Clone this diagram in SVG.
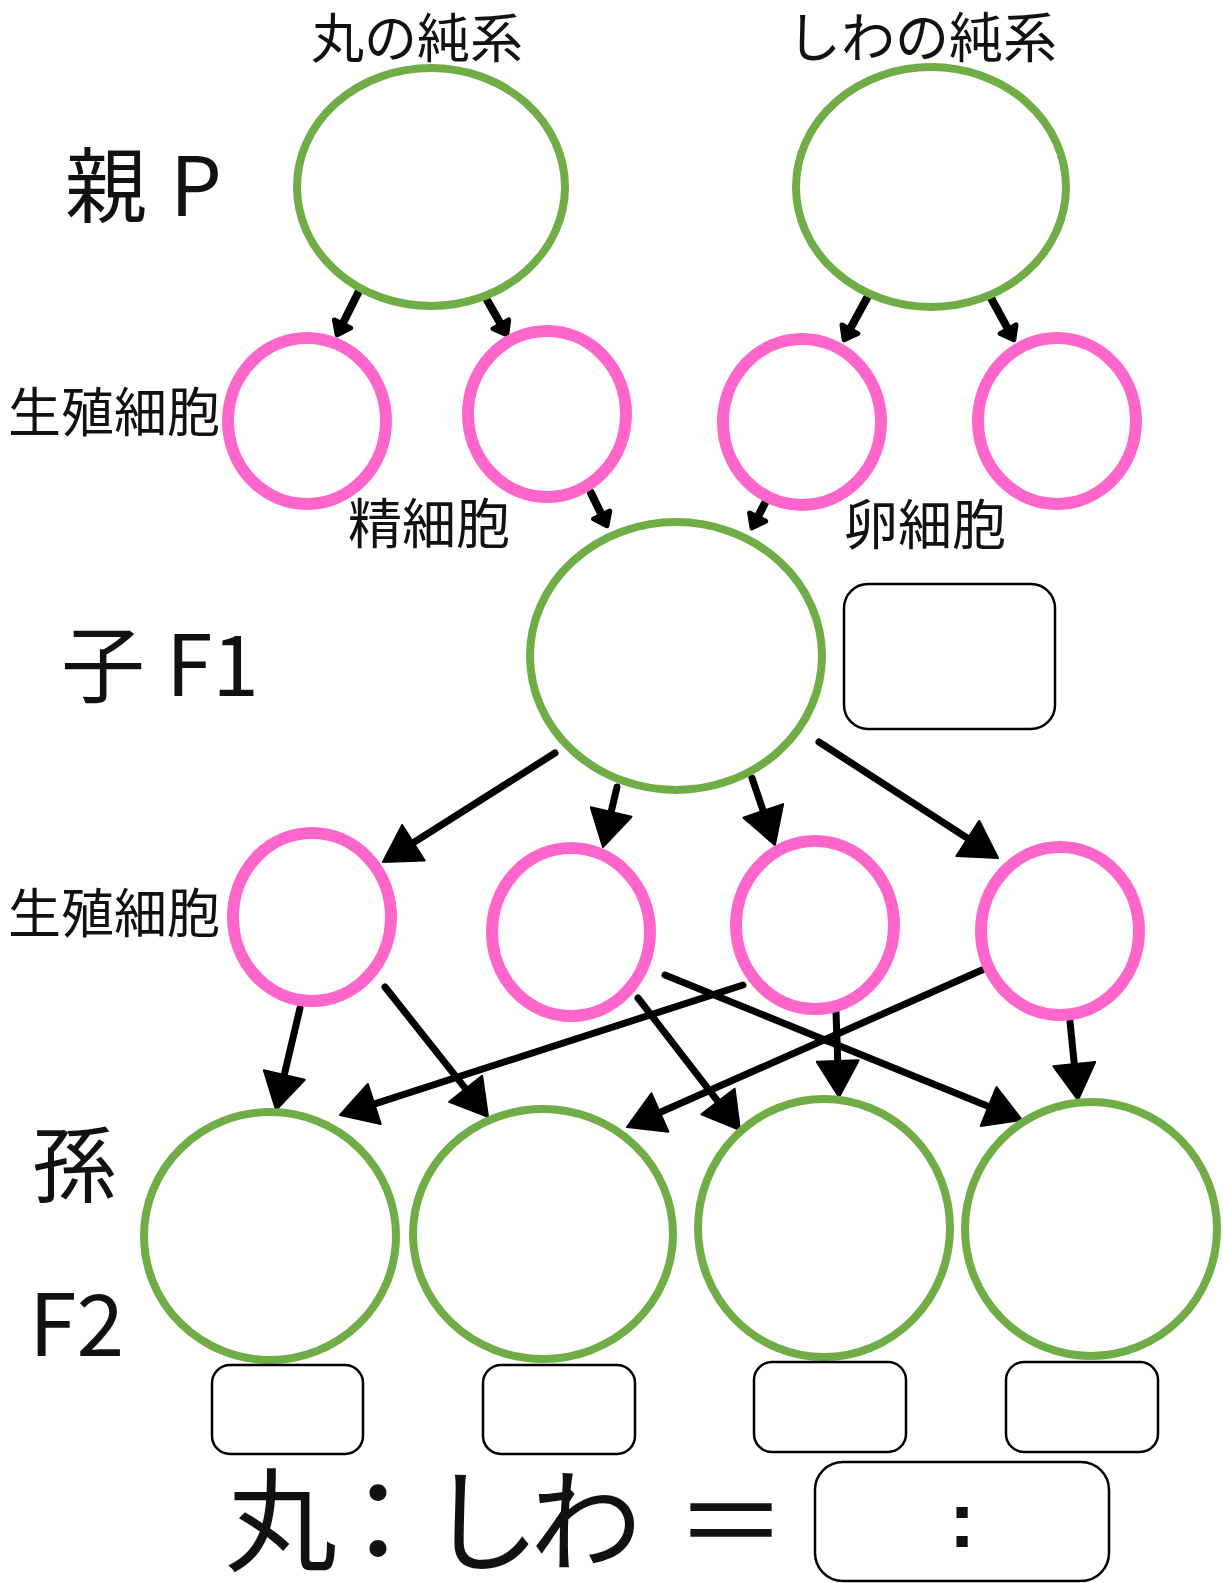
<svg xmlns="http://www.w3.org/2000/svg" width="1223" height="1583" viewBox="0 0 1223 1583">
<style>
.g{fill:#fff;stroke:#70AD47;stroke-width:8}
.p{fill:#fff;stroke:#FF66CC;stroke-width:12}
.b{fill:#fff;stroke:#000;stroke-width:2.5}
.t{font-family:"Noto Sans CJK JP","Noto Sans",sans-serif;fill:#111}
.a{stroke:#000;stroke-width:7;fill:none;stroke-linecap:round}
.s{stroke:#000;stroke-width:8;fill:none;stroke-linecap:round}
</style>
<defs>
<marker id="big" viewBox="-2 -22 40 44" markerWidth="40" markerHeight="44" refX="2" refY="0" orient="auto" markerUnits="userSpaceOnUse">
<path d="M0,-21 L36,0 L0,21 Z" fill="#000" stroke="#000" stroke-width="2" stroke-linejoin="round"/>
</marker>
<marker id="sm" viewBox="-6 -16 28 32" markerWidth="28" markerHeight="32" refX="0.5" refY="0" orient="auto" markerUnits="userSpaceOnUse">
<path d="M0,-9 L12,0 L0,9 Z" fill="#000" stroke="#000" stroke-width="5" stroke-linejoin="round"/>
</marker>
</defs>
<rect width="1223" height="1583" fill="#fff"/>

<g id="labels">
<text class="t" x="417" y="58" font-size="53" text-anchor="middle">丸の純系</text>
<text class="t" x="922" y="58" font-size="54" text-anchor="middle">しわの純系</text>
<text class="t" x="65 149 170" y="216" font-size="82">親 P</text>
<text class="t" x="8" y="432" font-size="53">生殖細胞</text>
<text class="t" x="429" y="544" font-size="54" text-anchor="middle">精細胞</text>
<text class="t" x="925" y="545" font-size="54" text-anchor="middle">卵細胞</text>
<text class="t" x="61 145 166" y="696" font-size="84">子 F1</text>
<text class="t" x="8" y="933" font-size="53">生殖細胞</text>
<text class="t" x="32" y="1196" font-size="84">孫</text>
<text class="t" x="29" y="1356" font-size="86">F2</text>
<text class="t" x="225 322 428 530 675" y="1563" font-size="112">丸：しわ＝</text>
</g>

<g id="connectors">
<line class="s" x1="358" y1="293" x2="342.3" y2="324.5" marker-end="url(#sm)"/>
<line class="s" x1="487" y1="300" x2="501.1" y2="324.8" marker-end="url(#sm)"/>
<line class="s" x1="867" y1="298" x2="849.7" y2="329.7" marker-end="url(#sm)"/>
<line class="s" x1="991" y1="298" x2="1008.3" y2="329.7" marker-end="url(#sm)"/>
<line class="s" x1="591" y1="493" x2="601.9" y2="515.4" marker-end="url(#sm)"/>
<line class="s" x1="765" y1="503" x2="757.4" y2="517.6" marker-end="url(#sm)"/>

<line class="a" x1="555" y1="753" x2="411.7" y2="843.8" marker-end="url(#big)"/>
<line class="a" x1="617" y1="787" x2="610.7" y2="813.9" marker-end="url(#big)"/>
<line class="a" x1="752" y1="778" x2="763.9" y2="812.8" marker-end="url(#big)"/>
<line class="a" x1="819" y1="742" x2="969.5" y2="839.5" marker-end="url(#big)"/>

<line class="a" x1="300" y1="1008" x2="283.8" y2="1076.9" marker-end="url(#big)"/>
<line class="a" x1="385" y1="987" x2="466.9" y2="1090.3" marker-end="url(#big)"/>
<line class="a" x1="743" y1="985" x2="372.4" y2="1104.6" marker-end="url(#big)"/>
<line class="a" x1="638" y1="998" x2="719.2" y2="1103.1" marker-end="url(#big)"/>
<line class="a" x1="665" y1="975" x2="990.5" y2="1107.2" marker-end="url(#big)"/>
<line class="a" x1="836" y1="1012" x2="837.8" y2="1063" marker-end="url(#big)"/>
<line class="a" x1="982" y1="970" x2="658.1" y2="1113.3" marker-end="url(#big)"/>
<line class="a" x1="1070" y1="1022" x2="1074.5" y2="1066.2" marker-end="url(#big)"/>
</g>

<g id="p-round"><ellipse class="g" cx="431" cy="187" rx="134" ry="119"/></g>
<g id="p-wrinkled"><ellipse class="g" cx="931" cy="187" rx="135" ry="120"/></g>

<g id="gamete-p1"><ellipse class="p" cx="307" cy="421" rx="79" ry="83"/></g>
<g id="gamete-p2"><ellipse class="p" cx="547" cy="414" rx="79" ry="83"/></g>
<g id="gamete-p3"><ellipse class="p" cx="802" cy="422" rx="79" ry="83"/></g>
<g id="gamete-p4"><ellipse class="p" cx="1057" cy="421" rx="79" ry="83"/></g>

<g id="f1"><ellipse class="g" cx="676" cy="656" rx="146" ry="134"/></g>
<g id="f1-box"><rect class="b" x="844" y="584" width="211" height="145" rx="24"/></g>

<g id="gamete-f1-1"><ellipse class="p" cx="312" cy="917" rx="79" ry="84"/></g>
<g id="gamete-f1-2"><ellipse class="p" cx="571" cy="932" rx="79" ry="84"/></g>
<g id="gamete-f1-3"><ellipse class="p" cx="815" cy="925" rx="79" ry="84"/></g>
<g id="gamete-f1-4"><ellipse class="p" cx="1060" cy="931" rx="79" ry="84"/></g>

<g id="f2-1"><ellipse class="g" cx="270" cy="1236" rx="126" ry="124"/></g>
<g id="f2-2"><ellipse class="g" cx="543" cy="1234" rx="130" ry="125"/></g>
<g id="f2-3"><ellipse class="g" cx="824" cy="1228" rx="126" ry="129"/></g>
<g id="f2-4"><ellipse class="g" cx="1091" cy="1229" rx="126" ry="127"/></g>

<g id="f2-box-1"><rect class="b" x="212" y="1365" width="151" height="89" rx="18"/></g>
<g id="f2-box-2"><rect class="b" x="483" y="1365" width="152" height="89" rx="18"/></g>
<g id="f2-box-3"><rect class="b" x="754" y="1362" width="152" height="90" rx="18"/></g>
<g id="f2-box-4"><rect class="b" x="1006" y="1362" width="152" height="90" rx="18"/></g>

<g id="ratio-box">
<rect class="b" x="815" y="1462" width="294" height="119" rx="28"/>
<text x="962" y="1547" font-family="'Liberation Sans',sans-serif" font-weight="bold" font-size="80" text-anchor="middle" fill="#111">:</text>
</g>
</svg>
